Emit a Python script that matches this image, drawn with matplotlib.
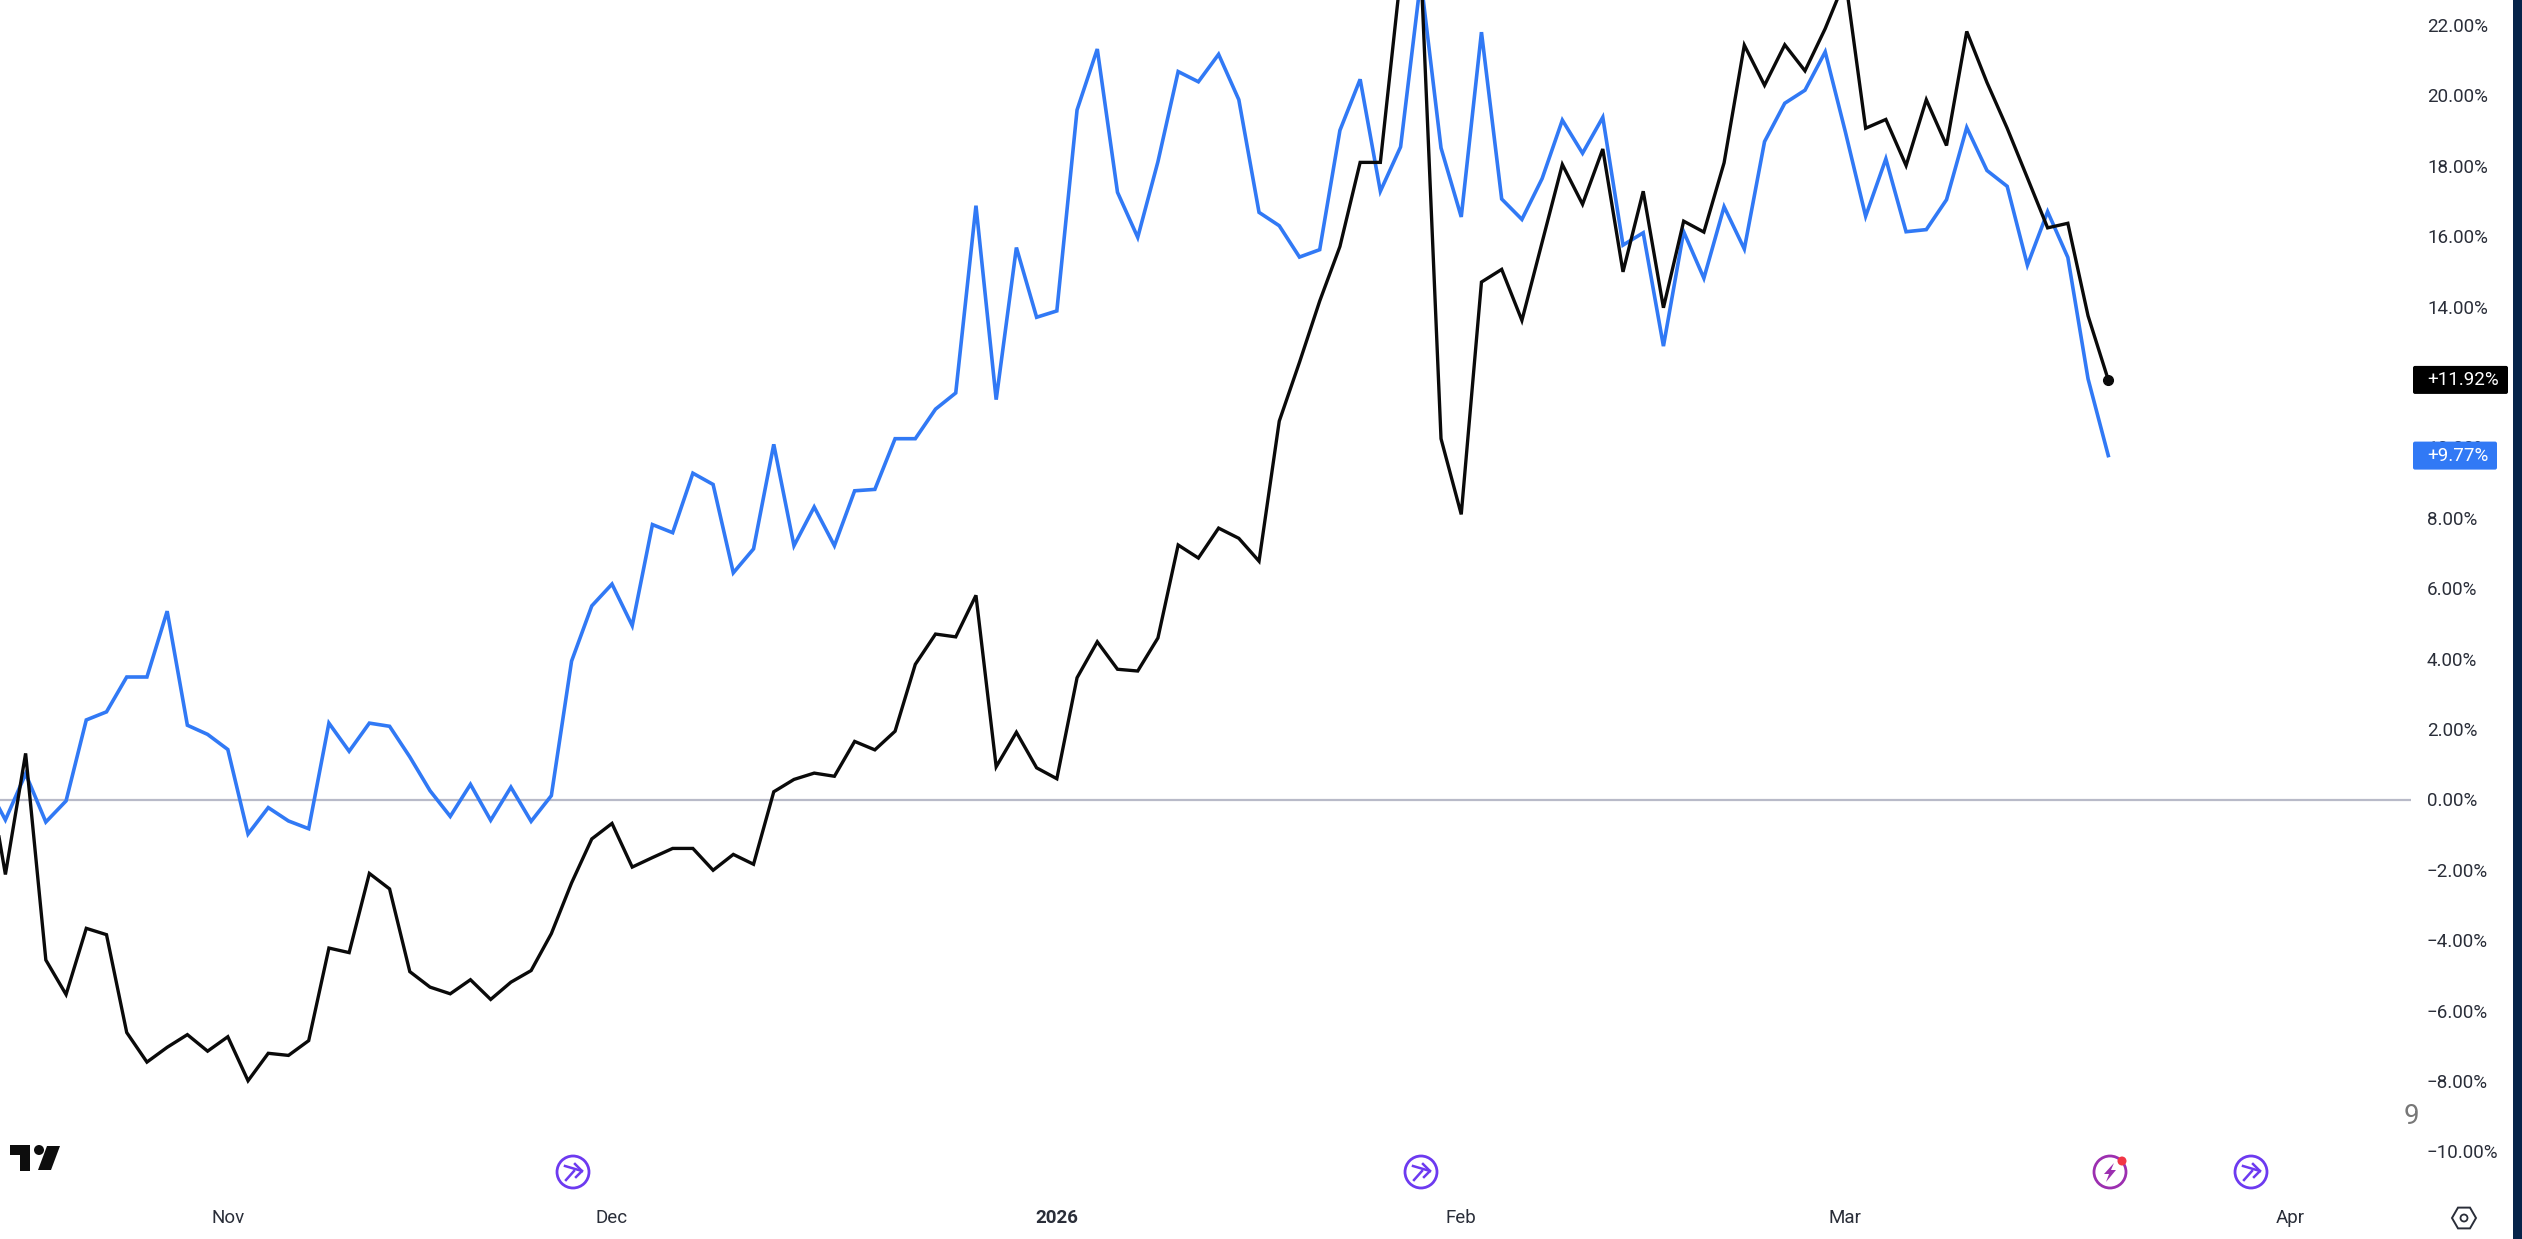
import numpy as np
import matplotlib
matplotlib.use('Agg')
import matplotlib.pyplot as plt
from matplotlib.patches import Circle, Polygon, Rectangle, FancyBboxPatch

plt.rcParams['font.family'] = ['Roboto', 'DejaVu Sans']

# first value sits just off the left edge of the picture
blue_values = [0.5, -0.58, 0.73, -0.64, -0.04, 2.26, 2.49, 3.48, 3.48, 5.35, 2.11, 1.85, 1.42, -0.98, -0.23,
               -0.61, -0.83, 2.17, 1.37, 2.17, 2.08, 1.21, 0.25, -0.48, 0.43, -0.59, 0.35, -0.62, 0.11, 3.93,
               5.5, 6.12, 4.94, 7.81, 7.58, 9.27, 8.95, 6.44, 7.12, 10.09, 7.21, 8.31, 7.21, 8.77, 8.81,
               10.25, 10.25, 11.09, 11.55, 16.87, 11.36, 15.68, 13.7, 13.88, 19.59, 21.32, 17.25, 15.97, 18.12, 20.68,
               20.39, 21.17, 19.88, 16.68, 16.30, 15.41, 15.62, 19.01, 20.46, 17.28, 18.54, 23.3, 18.51, 16.55, 21.8,
               17.06, 16.48, 17.64, 19.30, 18.36, 19.38, 15.75, 16.1, 12.88, 16.13, 14.81, 16.84, 15.64, 18.69, 19.78,
               20.15, 21.24, 18.96, 16.57, 18.2, 16.13, 16.19, 17.04, 19.09, 17.87, 17.42, 15.18, 16.7, 15.4, 11.95,
               9.77]
black_values = [1.24, -2.13, 1.31, -4.56, -5.54, -3.66, -3.84, -6.62, -7.46, -7.04, -6.68, -7.15, -6.74, -7.99, -7.21,
                -7.27, -6.85, -4.22, -4.35, -2.10, -2.54, -4.89, -5.33, -5.52, -5.12, -5.68, -5.19, -4.86, -3.81, -2.37,
                -1.12, -0.68, -1.92, -1.65, -1.39, -1.39, -2.01, -1.56, -1.84, 0.22, 0.57, 0.75, 0.66, 1.65, 1.41,
                1.94, 3.84, 4.70, 4.62, 5.80, 0.93, 1.91, 0.90, 0.59, 3.46, 4.48, 3.70, 3.65, 4.59, 7.23,
                6.86, 7.71, 7.42, 6.77, 10.75, 12.42, 14.16, 15.71, 18.10, 18.10, 23.4, 23.7, 10.25, 8.1, 14.7,
                15.06, 13.61, 15.83, 18.04, 16.91, 18.48, 14.99, 17.28, 13.97, 16.43, 16.12, 18.09, 21.43, 20.29, 21.44,
                20.70, 21.9, 23.3, 19.07, 19.32, 18.01, 19.88, 18.58, 21.82, 20.37, 19.07, 17.66, 16.24, 16.37, 13.74,
                11.92]
bar_index = np.arange(-1, 105)

month_labels = ['Nov', 'Dec', '2026', 'Feb', 'Mar', 'Apr']
month_index = [11, 30, 52, 72, 91, 113]
pct_ticks = list(range(-10, 24, 2))

BLUE = '#3179f5'
BLACK = '#0a0a0a'
PURPLE = '#6d3af0'
MAGENTA = '#9c2fb0'
TEXT = '#2a2e39'

W, H = 2522, 1239
fig = plt.figure(figsize=(W / 100, H / 100), dpi=100, facecolor='white')

# price pane stops at x=2411 and y=1190, the rest is the axis strips
ax = fig.add_axes([0, (H - 1190) / H, 2411 / W, 1190 / H])
ax.set_xlim(-5.4 / 20.22, (2411 - 5.4) / 20.22)
ax.set_ylim((799.5 - 1190) / 35.2, 799.5 / 35.2)
for s in ax.spines.values():
    s.set_visible(False)

ax.axhline(0, color='#b8bac8', lw=1.6, zorder=1)
ax.plot(bar_index, blue_values, color=BLUE, lw=2.6, solid_joinstyle='miter', zorder=3)
ax.plot(bar_index, black_values, color=BLACK, lw=2.4, solid_joinstyle='miter', zorder=4)
ax.plot(bar_index[-1], black_values[-1], 'o', color=BLACK, ms=7, zorder=5)

ax.yaxis.tick_right()
ax.set_yticks(pct_ticks)
ax.set_yticklabels([f'{v:.2f}%'.replace('-', '\u2212') for v in pct_ticks])
ax.tick_params(axis='y', length=0, pad=11.5, labelsize=13.5, labelcolor=TEXT)
ax.set_xticks(month_index)
ax.set_xticklabels(month_labels)
ax.tick_params(axis='x', length=0, pad=14, labelsize=13.5, labelcolor=TEXT)
ax.get_xticklabels()[2].set_fontweight('bold')

# overlay in picture pixels for the logo, event icons and the price tags
ov = fig.add_axes([0, 0, 1, 1], facecolor='none')
ov.set_xlim(0, W)
ov.set_ylim(H, 0)
ov.axis('off')


def value_to_px(v):
    return H - ax.transData.transform((0, v))[1]


def price_tag(v, txt, color, right):
    y = value_to_px(v)
    ov.add_patch(FancyBboxPatch((2413, y - 14), right - 2413, 28, boxstyle='round,pad=0,rounding_size=2',
                                fc=color, ec='none'))
    ov.text(2427, y, txt, color='white', fontsize=13.5, va='center', ha='left')


def merge_icon(x, y):
    ov.add_patch(Circle((x, y), 16, fc='white', ec=PURPLE, lw=2))
    ov.plot([x - 8, x + 9], [y - 6, y - 1], color=PURPLE, lw=1.8)
    ov.plot([x - 7, x + 1], [y + 8, y - 1], color=PURPLE, lw=1.8)
    ov.plot([x + 2, x + 9, x + 3], [y - 8, y - 1, y + 5], color=PURPLE, lw=1.8)


price_tag(11.92, '+11.92%', '#000000', 2508)
price_tag(9.77, '+9.77%', BLUE, 2497)

# tradingview logo
ov.add_patch(Polygon([(10, 1145), (30, 1145), (30, 1171), (20, 1171), (20, 1155), (10, 1155)], fc='#0d0d0d', ec='none'))
ov.add_patch(Circle((39, 1150), 5, fc='#0d0d0d', ec='none'))
ov.add_patch(Polygon([(47, 1146), (60, 1146), (51, 1170), (38, 1170)], fc='#0d0d0d', ec='none'))

merge_icon(573, 1172)
merge_icon(1421, 1172)
merge_icon(2251, 1172)

# lightning event with the red dot
ov.add_patch(Circle((2110, 1172), 16, fc='white', ec=MAGENTA, lw=2))
ov.add_patch(Polygon([(2114, 1163), (2104, 1174), (2109, 1174), (2106, 1182), (2116, 1170), (2111, 1170)],
                     fc=MAGENTA, ec='none'))
ov.add_patch(Circle((2122, 1161), 4.5, fc='#f23645', ec='none'))

# settings hexagon
hx = 2464 + 12 * np.cos(np.arange(6) * np.pi / 3)
hy = 1218 + 12 * np.sin(np.arange(6) * np.pi / 3)
ov.add_patch(Polygon(np.column_stack([hx, hy]), closed=True, fc='white', ec='#2a2e39', lw=1.4))
ov.add_patch(Circle((2464, 1218), 3.5, fc='white', ec='#2a2e39', lw=1.3))

ov.text(2411, 1117, '9', color='#777777', fontsize=20, ha='center', va='center')
ov.add_patch(Rectangle((2513, 0), 9, H, fc='#06244a', ec='none'))

fig.savefig('out.png', dpi=100)
